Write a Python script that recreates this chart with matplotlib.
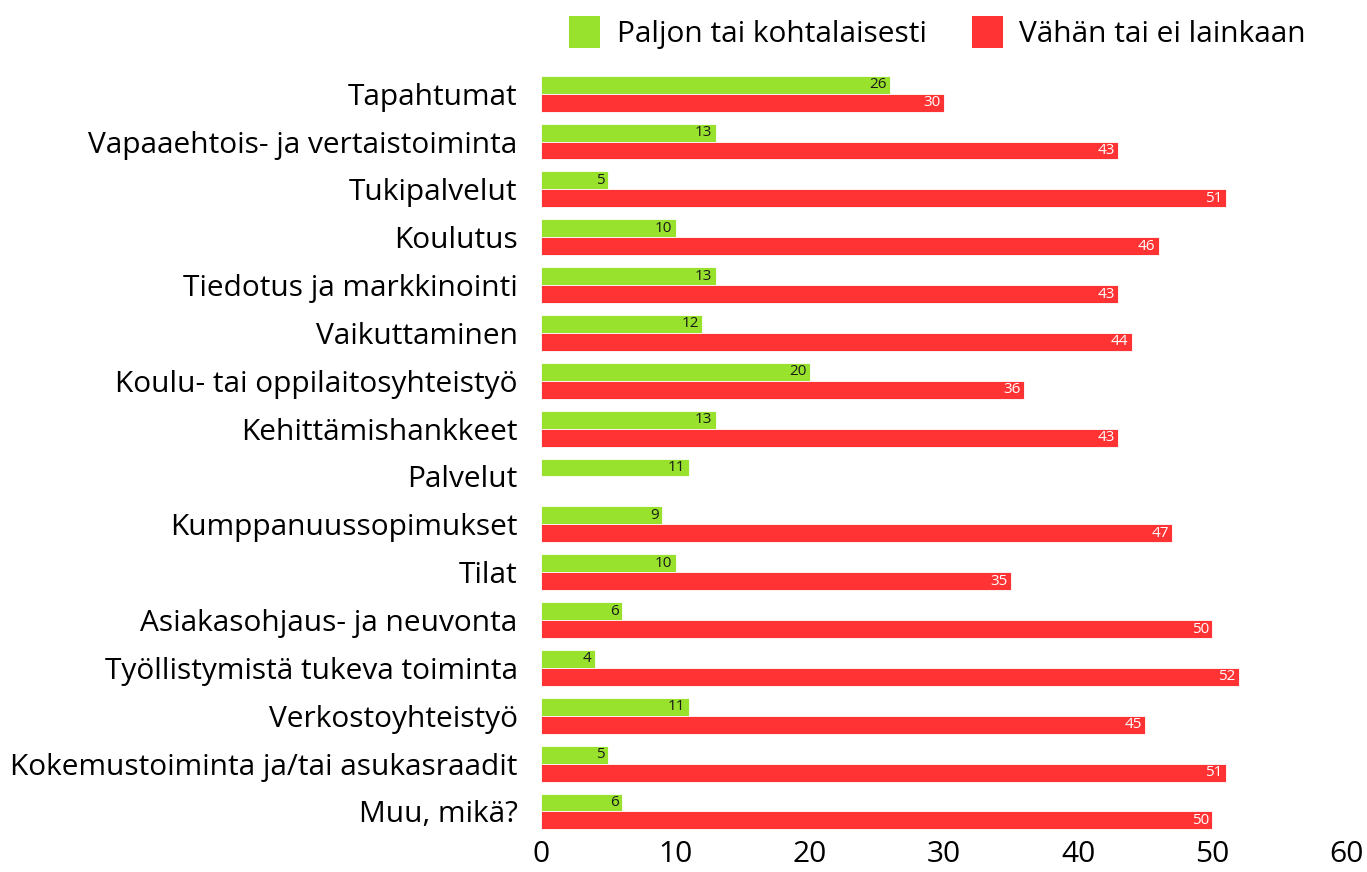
import matplotlib
matplotlib.use("Agg")
import matplotlib.pyplot as plt
import numpy as np

categories = ["Tapahtumat", "Vapaaehtois- ja vertaistoiminta", "Tukipalvelut", "Koulutus",
              "Tiedotus ja markkinointi", "Vaikuttaminen", "Koulu- tai oppilaitosyhteistyö",
              "Kehittämishankkeet", "Palvelut", "Kumppanuussopimukset", "Tilat",
              "Asiakasohjaus- ja neuvonta", "Työllistymistä tukeva toiminta",
              "Verkostoyhteistyö", "Kokemustoiminta ja/tai asukasraadit", "Muu, mikä?"]
paljon = [26, 13, 5, 10, 13, 12, 20, 13, 11, 9, 10, 6, 4, 11, 5, 6]
vahan = [30, 43, 51, 46, 43, 44, 36, 43, None, 47, 35, 50, 52, 45, 51, 50]
series_names = ["Paljon tai kohtalaisesti", "Vähän tai ei lainkaan"]
x_ticks = [0, 10, 20, 30, 40, 50, 60]

plt.rcParams['font.family'] = ['Open Sans', 'DejaVu Sans']
GREEN = "#98E22D"
RED = "#FF3333"

fig = plt.figure(figsize=(13.67, 8.72), dpi=100)
ax = fig.add_axes([0.396, 0.042, 0.589, 0.878])

n = len(categories)
y = np.arange(n)
h = 0.375
for i in range(n):
    g = paljon[i]
    if g is not None:
        ax.barh(y[i] - h / 2, g, height=h, color=GREEN, edgecolor="white", linewidth=0.6)
        ax.text(g - 0.25, y[i] - h / 2, str(g), ha="right", va="center", fontsize=11, color="#1a1a1a")
    r = vahan[i]
    if r is not None:
        ax.barh(y[i] + h / 2, r, height=h, color=RED, edgecolor="white", linewidth=0.6)
        ax.text(r - 0.25, y[i] + h / 2, str(r), ha="right", va="center", fontsize=11, color="white")

ax.set_ylim(n - 0.5, -0.5)
ax.set_xlim(0, 60)
ax.set_yticks(y)
ax.set_yticklabels(categories, fontsize=21.5)
ax.set_xticks(x_ticks)
ax.set_xticklabels([str(t) for t in x_ticks], fontsize=21.5)
ax.tick_params(axis='y', length=0, pad=17)
ax.tick_params(axis='x', length=0, pad=3)
for s in ax.spines.values():
    s.set_visible(False)

from matplotlib.patches import Patch
handles = [Patch(facecolor=GREEN, label=series_names[0]), Patch(facecolor=RED, label=series_names[1])]
fig.legend(handles=handles, loc="upper right", bbox_to_anchor=(0.975, 1.013), ncol=2, frameon=False,
           fontsize=21.5, handlelength=1.05, handleheight=1.3, handletextpad=0.55, columnspacing=1.5)

fig.savefig("out.png", dpi=100)
